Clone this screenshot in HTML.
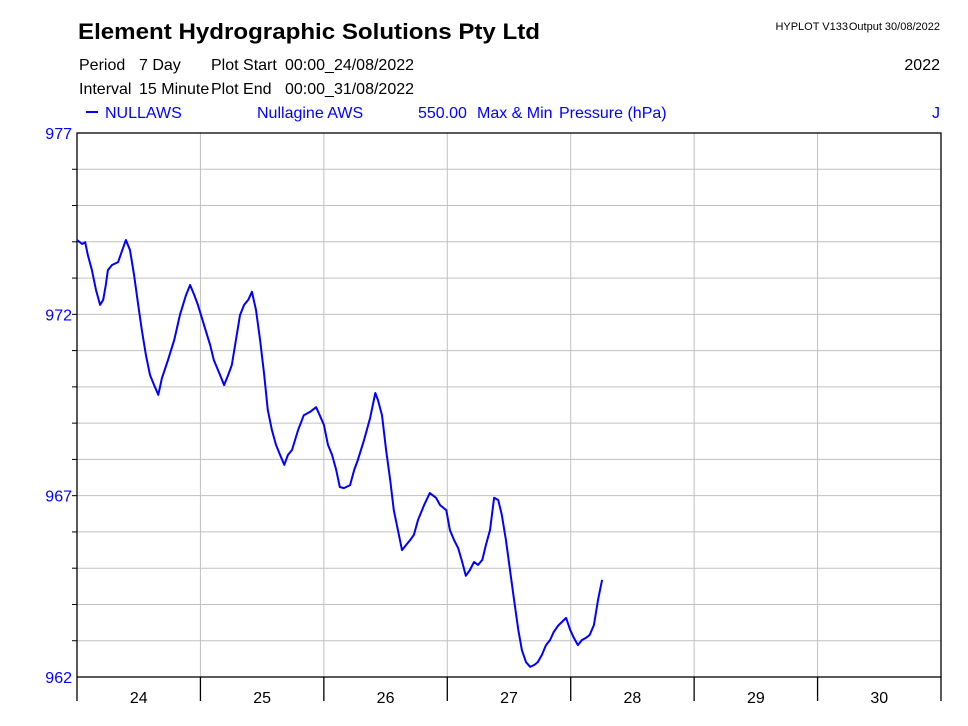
<!DOCTYPE html>
<html><head><meta charset="utf-8"><style>
body{margin:0;background:#fff;width:968px;height:726px;overflow:hidden;font-family:"Liberation Sans",sans-serif}
svg{display:block}
</style></head><body>
<svg id="chart" width="968" height="726" xmlns="http://www.w3.org/2000/svg">
<text x="78" y="39" font-size="22" font-weight="bold" fill="#000" textLength="462" lengthAdjust="spacingAndGlyphs">Element Hydrographic Solutions Pty Ltd</text>
<g font-size="11" fill="#000">
<text x="848" y="30" text-anchor="end">HYPLOT V133</text>
<text x="940" y="30" text-anchor="end">Output 30/08/2022</text>
</g>
<g font-size="16" fill="#000">
<text x="79" y="70">Period</text><text x="139" y="70">7 Day</text>
<text x="211" y="70">Plot Start</text><text x="285" y="70">00:00_24/08/2022</text>
<text x="79" y="94">Interval</text><text x="139" y="94">15 Minute</text>
<text x="211" y="94">Plot End</text><text x="285" y="94">00:00_31/08/2022</text>
<text x="940" y="70" text-anchor="end">2022</text>
</g>
<g fill="#0000ff" font-size="16">
<line x1="86" y1="112" x2="98" y2="112" stroke="#0000ff" stroke-width="2"/>
<text x="105" y="118">NULLAWS</text>
<text x="257" y="118">Nullagine AWS</text>
<text x="418" y="118">550.00</text>
<text x="477" y="118">Max &amp; Min</text>
<text x="559" y="118">Pressure (hPa)</text>
<text x="940" y="118" text-anchor="end">J</text>
</g>
<g id="grid"></g>
<g id="axes"></g>
<g id="series"></g>
</svg>
<script>
const hours=[0,1.0,1.6,2.1,2.9,3.7,4.5,5.1,5.6,6.0,6.8,8.0,8.8,9.5,10.3,11.1,11.9,12.6,13.4,14.2,15.0,15.8,16.5,17.7,18.9,20.0,21.2,22.0,22.8,23.5,24.7,25.9,26.6,27.8,28.6,29.4,30.1,30.9,31.7,32.5,33.3,34.0,34.8,35.6,36.4,37.1,37.9,38.7,39.5,40.3,41.0,41.8,43.0,44.1,45.3,46.5,47.2,48.0,48.8,49.6,50.4,51.1,51.9,53.1,53.9,54.6,55.8,57.0,58.0,58.5,59.3,60.1,60.9,61.6,62.4,63.2,64.0,64.8,65.5,66.3,67.5,68.6,69.8,70.6,71.8,72.5,73.3,74.1,74.9,75.6,76.4,77.2,78.0,78.8,79.5,80.3,81.1,81.9,82.6,83.4,84.2,85.0,85.8,86.5,87.3,88.1,88.9,89.6,90.4,91.2,92.0,92.7,93.5,94.3,95.1,95.9,96.6,97.4,98.2,99.0,99.7,100.5,101.3,102.1];
const pressure=[974.05,973.94,973.99,973.64,973.22,972.67,972.26,972.40,972.81,973.22,973.36,973.44,973.77,974.05,973.77,973.08,972.26,971.57,970.88,970.33,970.05,969.78,970.24,970.74,971.29,971.98,972.53,972.81,972.53,972.26,971.71,971.15,970.74,970.33,970.05,970.33,970.60,971.29,971.98,972.26,972.40,972.62,972.12,971.29,970.33,969.36,968.81,968.40,968.12,967.85,968.12,968.26,968.81,969.22,969.31,969.44,969.22,968.95,968.40,968.12,967.71,967.24,967.21,967.29,967.71,967.98,968.53,969.14,969.83,969.64,969.22,968.26,967.43,966.60,966.05,965.50,965.64,965.78,965.92,966.33,966.74,967.07,966.94,966.74,966.60,966.05,965.78,965.56,965.17,964.79,964.95,965.17,965.09,965.23,965.64,966.05,966.94,966.88,966.47,965.78,964.95,964.12,963.30,962.74,962.41,962.28,962.33,962.41,962.61,962.88,963.02,963.24,963.41,963.52,963.63,963.30,963.08,962.88,963.02,963.08,963.16,963.43,964.12,964.68];
const yTicks=[977,972,967,962];
const dayLabels=["24","25","26","27","28","29","30"];
const X0=77,X1=941,Y0=133,Y1=677,YMAX=977,YMIN=962,TOTAL_H=168;
const NS="http://www.w3.org/2000/svg";
const xs=h=>X0+(h/TOTAL_H)*(X1-X0);
const ys=v=>Y0+(YMAX-v)/(YMAX-YMIN)*(Y1-Y0);
function mk(tag,attrs,parent){const e=document.createElementNS(NS,tag);for(const k in attrs)e.setAttribute(k,attrs[k]);parent.appendChild(e);return e;}
const grid=document.getElementById('grid'),axes=document.getElementById('axes'),series=document.getElementById('series');
for(let v=YMIN+1;v<YMAX;v++){
  const l=mk('line',{x1:X0,x2:X1,y1:ys(v),y2:ys(v),stroke:'#c0c0c0','stroke-width':1},grid);
  
  
  const t=mk('line',{x1:X0-5,x2:X0,y1:ys(v),y2:ys(v),stroke:'#000','stroke-width':1},axes);
  
  
}
dayLabels.forEach((d,i)=>{
  const x=xs((i+1)*24);
  if(i<6){
    const l=mk('line',{x1:x,x2:x,y1:Y0,y2:Y1,stroke:'#c0c0c0','stroke-width':1},grid);
    
    
  }
  const t=mk('line',{x1:x,x2:x,y1:Y1,y2:701,stroke:'#000','stroke-width':1.3},axes);
  
  
  const tx=mk('text',{x:xs(i*24+12),y:703,'font-size':16,'text-anchor':'middle',fill:'#000'},axes);
  tx.textContent=d;
  
  
});
const fr=mk('rect',{x:X0,y:Y0,width:X1-X0,height:Y1-Y0,fill:'none',stroke:'#000','stroke-width':1.3},axes);


const la=mk('line',{x1:X0,x2:X0,y1:Y1,y2:701,stroke:'#000','stroke-width':1.3},axes);


yTicks.forEach(v=>{
  const t=mk('text',{x:72,y:ys(v)+6,'font-size':16,'text-anchor':'end',fill:'#0000ff'},axes);
  t.textContent=v;
  
  
});
const pts=hours.map((h,i)=>xs(h).toFixed(1)+','+ys(pressure[i]).toFixed(1)).join(' ');
const pl=mk('polyline',{points:pts,fill:'none',stroke:'#0000ff','stroke-width':2,'stroke-linejoin':'round'},series);


</script>
</body></html>
